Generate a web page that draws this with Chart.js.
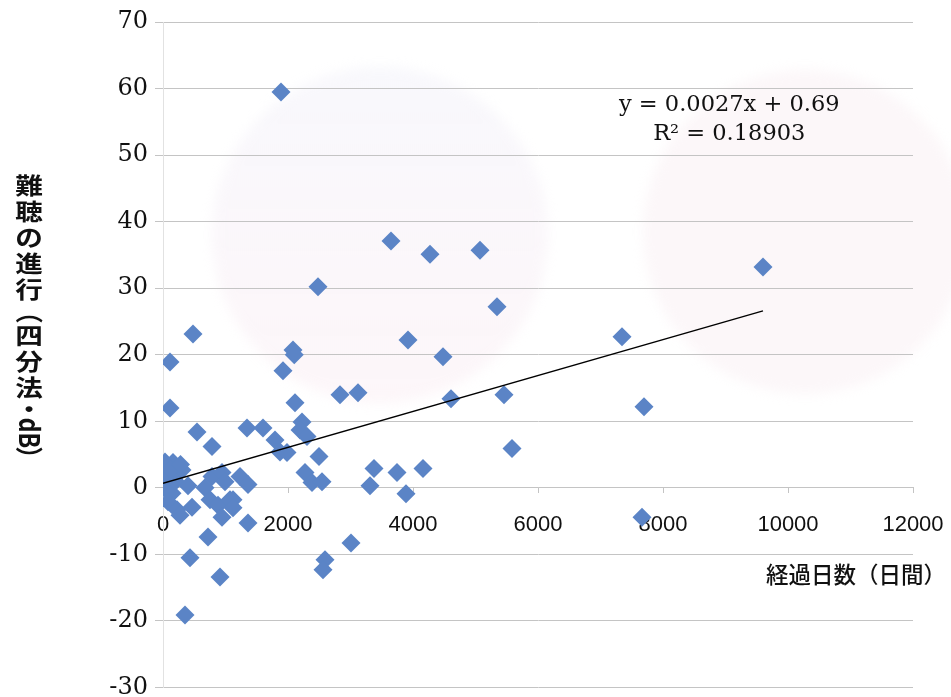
<!DOCTYPE html>
<html>
<head>
<meta charset="utf-8">
<script src="https://cdn.jsdelivr.net/npm/chart.js@4"></script>
<style>
  html, body { margin: 0; padding: 0; background: #fff; }
  #wrap { width: 951px; height: 697px; }
</style>
</head>
<body>
<div id="wrap"><canvas id="chart" width="951" height="697"></canvas></div>
<script>
// 経過日数 (x) と 難聴の進行 (y) – 図から読み取った値
const days = [
  1888, 3648, 4272, 5072, 9600, 2480, 5344, 3920, 4480, 7344,
  480, 112, 2080, 2100, 1920, 2832, 3120, 4608, 5456, 112,
  2112, 7696, 544, 1344, 1600, 2224, 2192, 2304, 1792, 784,
  5584, 1872, 1984, 2496, 3376, 4160, 3744, 3312, 3888, 2272,
  2384, 2544, 1232, 1360, 1120, 1360, 3008, 2592, 2560, 7664,
  32, 160, 304, 0, 16, 144, 80, 224, 272, 464,
  672, 784, 944, 992, 752, 880, 1072, 1120, 944, 720,
  432, 912, 352, 200, 400, 120, 280
];
const progress = [
  59.5, 37.1, 35.1, 35.7, 33.2, 30.2, 27.2, 22.2, 19.7, 22.7,
  23.1, 18.9, 20.7, 20.0, 17.6, 14.0, 14.3, 13.4, 14.0, 12.0,
  12.8, 12.2, 8.4, 9.0, 9.0, 9.9, 8.7, 7.7, 7.2, 6.2,
  5.9, 5.4, 5.3, 4.7, 2.9, 2.9, 2.3, 0.3, -0.9, 2.3,
  0.8, 0.9, 1.7, 0.5, -1.8, -5.3, -8.3, -10.8, -12.3, -4.4,
  3.9, 3.8, 2.7, 1.7, 0.0, -0.8, -2.1, -3.3, -4.1, -2.9,
  0.0, 1.7, 2.3, 0.9, -1.8, -2.6, -1.8, -3.0, -4.4, -7.4,
  -10.5, -13.4, -19.1, 1.0, 0.3, 2.8, 3.5
];

// 近似直線の両端 (y = 0.0027x + 0.69)
const trendX = [0, 9600];
const trendY = [0.69, 26.6];
const trendText = ['y = 0.0027x + 0.69', 'R\u00b2 = 0.18903'];

const xTicks = [0, 2000, 4000, 6000, 8000, 10000, 12000];
const yTicks = [-30, -20, -10, 0, 10, 20, 30, 40, 50, 60, 70];

const xTitle = '経過日数（日間）';
const yTitle = ['難', '聴', 'の', '進', '行', '（', '四', '分', '法', '・', 'dB', '）'];

const pointColor = 'rgb(91,132,198)';
const gridColor = '#c4c4c4';

const scatterData = days.map((d, i) => ({ x: d, y: progress[i] }));
const trendData = trendX.map((x, i) => ({ x: x, y: trendY[i] }));

// 裏写りの薄い円 (スキャン原稿の透け)
const backPlugin = {
  id: 'back',
  beforeDraw(chart) {
    const ctx = chart.ctx;
    ctx.save();
    ctx.filter = 'blur(6px)';
    let g = ctx.createLinearGradient(0, 60, 0, 400);
    g.addColorStop(0, 'rgba(228,228,245,0.25)');
    g.addColorStop(1, 'rgba(245,215,228,0.22)');
    ctx.fillStyle = g;
    ctx.beginPath();
    ctx.arc(380, 235, 168, 0, Math.PI * 2);
    ctx.fill();
    ctx.fillStyle = 'rgba(245,222,232,0.25)';
    ctx.beginPath();
    ctx.arc(805, 232, 162, 0, Math.PI * 2);
    ctx.fill();
    ctx.restore();
  }
};

// 軸タイトルと近似式を描くプラグイン
const labelsPlugin = {
  id: 'labels',
  afterDraw(chart) {
    const ctx = chart.ctx;
    const xs = chart.scales.x;
    const ys = chart.scales.y;
    ctx.save();
    ctx.fillStyle = '#111';

    // 近似式
    ctx.font = '22.5px "DejaVu Serif"';
    ctx.textAlign = 'center';
    ctx.textBaseline = 'middle';
    const cx = xs.getPixelForValue(9060);
    ctx.fillText(trendText[0], cx, ys.getPixelForValue(57.5));
    ctx.fillText(trendText[1], cx, ys.getPixelForValue(53.1));

    // x軸タイトル
    ctx.font = '500 22.5px "Noto Sans CJK JP"';
    ctx.textAlign = 'right';
    ctx.fillText(xTitle, 946, ys.getPixelForValue(-13.0));

    // y軸タイトル (縦書き)
    ctx.font = '600 23px "Noto Sans CJK JP"';
    ctx.textAlign = 'center';
    let y = 172;
    const x = 29;
    yTitle.forEach(ch => {
      const rotate = ch === '（' || ch === '）' || ch === 'dB';
      let step = 26;
      if (ch === '（' || ch === '）') step = 20;
      if (ch === '・') step = 18;
      if (ch === 'dB') step = 30;
      const cy = y + step / 2;
      ctx.save();
      ctx.translate(x, cy);
      if (rotate) ctx.rotate(Math.PI / 2);
      ctx.scale(rotate ? 1 : 1.2, rotate ? 1.2 : 1);
      ctx.fillText(ch, 0, 0);
      ctx.restore();
      y += step;
    });
    ctx.restore();
  }
};

new Chart(document.getElementById('chart').getContext('2d'), {
  type: 'scatter',
  data: {
    datasets: [
      {
        type: 'line',
        label: 'trend',
        data: trendData,
        borderColor: '#000',
        borderWidth: 1.3,
        pointRadius: 0,
        fill: false
      },
      {
        label: 'data',
        data: scatterData,
        pointStyle: 'rectRot',
        pointRadius: 9.5,
        backgroundColor: pointColor,
        borderColor: pointColor,
        borderWidth: 0
      }
    ]
  },
  options: {
    responsive: false,
    animation: false,
    layout: { padding: { top: 22, bottom: 9, left: 0, right: 38 } },
    plugins: { legend: { display: false }, tooltip: { enabled: false } },
    scales: {
      x: {
        type: 'linear',
        position: { y: 0 },
        min: 0,
        max: 12000,
        afterBuildTicks(scale) { scale.ticks = xTicks.map(v => ({ value: v })); },
        afterFit(scale) { scale.paddingLeft = 0; scale.paddingRight = 0; },
        grid: { drawOnChartArea: false, drawTicks: true, tickLength: 5, color: gridColor },
        border: { display: true, color: gridColor },
        ticks: {
          padding: 19,
          maxRotation: 0,
          color: '#111',
          font: { family: '"Liberation Sans"', size: 22 },
          callback: v => String(v)
        }
      },
      y: {
        type: 'linear',
        min: -30,
        max: 70,
        afterBuildTicks(scale) { scale.ticks = yTicks.map(v => ({ value: v })); },
        afterFit(scale) { scale.width = 163; scale.paddingTop = 0; scale.paddingBottom = 0; },
        grid: { color: gridColor, tickLength: 8, lineWidth: 1 },
        border: { display: true, color: '#e2e2e2' },
        ticks: {
          padding: 7,
          color: '#111',
          font: { family: '"DejaVu Serif"', size: 24 },
          callback: v => String(v)
        }
      }
    }
  },
  plugins: [backPlugin, labelsPlugin]
});
</script>
</body>
</html>
